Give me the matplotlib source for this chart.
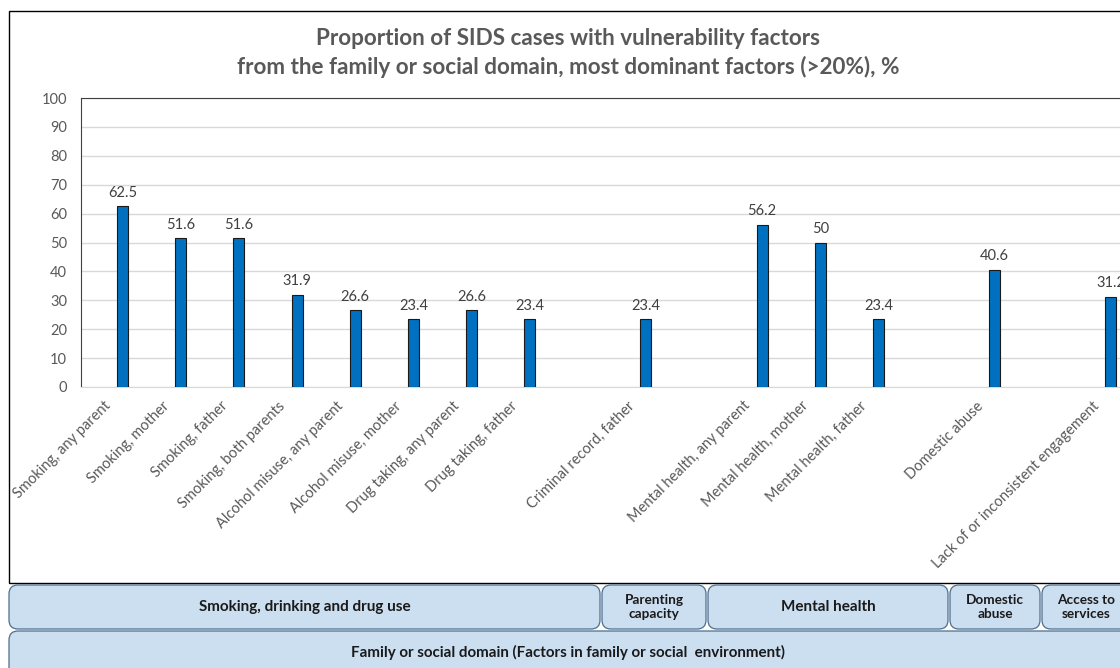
import numpy as np
import matplotlib
matplotlib.use("Agg")
import matplotlib.pyplot as plt
from matplotlib.patches import FancyBboxPatch, Rectangle

plt.rcParams['font.family'] = ['Lato', 'DejaVu Sans']

# Factor names (blank entries keep a gap between domains)
categories = [
    "Smoking, any parent", "Smoking, mother", "Smoking, father",
    "Smoking, both parents", "Alcohol misuse, any parent",
    "Alcohol misuse, mother", "Drug taking, any parent", "Drug taking, father",
    "", "Criminal record, father", "",
    "Mental health, any parent", "Mental health, mother", "Mental health, father",
    "", "Domestic abuse", "", "Lack of or inconsistent engagement",
]
values = [62.5, 51.6, 51.6, 31.9, 26.6, 23.4, 26.6, 23.4, None, 23.4, None,
          56.2, 50, 23.4, None, 40.6, None, 31.2]
value_labels = ["62.5", "51.6", "51.6", "31.9", "26.6", "23.4", "26.6", "23.4", "",
                "23.4", "", "56.2", "50", "23.4", "", "40.6", "", "31.2"]
y_ticks = [0, 10, 20, 30, 40, 50, 60, 70, 80, 90, 100]

subgroups = ["Smoking, drinking and drug use", "Parenting\ncapacity",
             "Mental health", "Domestic\nabuse", "Access to\nservices"]
domain = "Family or social domain (Factors in family or social  environment)"
title = ("Proportion of SIDS cases with vulnerability factors\n"
         "from the family or social domain, most dominant factors (>20%), %")

W, H = 1120, 668
fig = plt.figure(figsize=(W / 100, H / 100), dpi=100)


def fx(px):
    return px / W


def fy(py):
    return 1 - py / H


# chart frame
fig.add_artist(Rectangle((fx(9), fy(583)), fx(1200) - fx(9), fy(11) - fy(583),
                         transform=fig.transFigure, fill=False,
                         edgecolor="#000000", linewidth=1.0))

fig.text(fx(568), fy(53), title, ha="center", va="center", fontsize=16.2,
         fontweight="bold", color="#595959", linespacing=1.42)

ax = fig.add_axes([fx(81), fy(387), fx(1140) - fx(81), fy(98) - fy(387)])
x = np.arange(len(categories))
heights = [np.nan if v is None else v for v in values]
ax.bar(x, heights, width=0.19, color="#0070C0", edgecolor="#1a1a1a",
       linewidth=0.8, zorder=3)
for xi, v, lab in zip(x, values, value_labels):
    if v is not None:
        ax.text(xi, v + 2.2, lab, ha="center", va="bottom", fontsize=10.5,
                color="#404040")

ax.set_xlim(-0.717, 17.5)
ax.set_ylim(0, 100)
ax.set_yticks(y_ticks)
ax.set_yticklabels([str(t) for t in y_ticks])
ax.tick_params(axis="y", length=0, labelsize=10.5, labelcolor="#595959", pad=10)
ax.grid(axis="y", color="#D9D9D9", linewidth=1.0, zorder=0)
ax.set_axisbelow(True)
ax.set_xticks(x)
ax.set_xticklabels([])
ax.tick_params(axis="x", length=0)
for xi, lab in zip(x, categories):
    if lab:
        ax.annotate(lab, xy=(xi, 0), xycoords="data", xytext=(-10, -12),
                    textcoords="offset points", rotation=45,
                    rotation_mode="anchor", ha="right", va="center",
                    fontsize=10.5, color="#595959")
ax.spines["right"].set_visible(False)
ax.spines["left"].set_color("#404040")
ax.spines["top"].set_color("#404040")
ax.spines["bottom"].set_color("#D9D9D9")

# grouping boxes under the axis
box_fill = "#CCDFF1"
box_edge = "#4F6E8E"
row1 = [(9, 600), (602, 706), (708, 948), (950, 1040), (1042, 1135)]
for (x0, x1), lab in zip(row1, subgroups):
    fig.add_artist(FancyBboxPatch((fx(x0), fy(629)), fx(x1) - fx(x0), fy(585) - fy(629),
                                  boxstyle="round,pad=0,rounding_size=0.008",
                                  transform=fig.transFigure, facecolor=box_fill,
                                  edgecolor=box_edge, linewidth=0.9,
                                  mutation_aspect=W / H))
    fs = 11 if "\n" not in lab else 9.8
    cx = (x0 + x1) / 2 if x1 < 1120 else (x0 + 1130) / 2
    fig.text(fx(cx), fy(607), lab, ha="center", va="center", fontsize=fs,
             fontweight="bold", color="#1a1a1a", linespacing=1.1)
fig.add_artist(FancyBboxPatch((fx(9), fy(690)), fx(1200) - fx(9), fy(631) - fy(690),
                              boxstyle="round,pad=0,rounding_size=0.008",
                              transform=fig.transFigure, facecolor=box_fill,
                              edgecolor=box_edge, linewidth=0.9,
                              mutation_aspect=W / H))
fig.text(fx(568), fy(652), domain, ha="center", va="center", fontsize=10.9,
         fontweight="bold", color="#1a1a1a")

fig.savefig("out.png", dpi=100)
